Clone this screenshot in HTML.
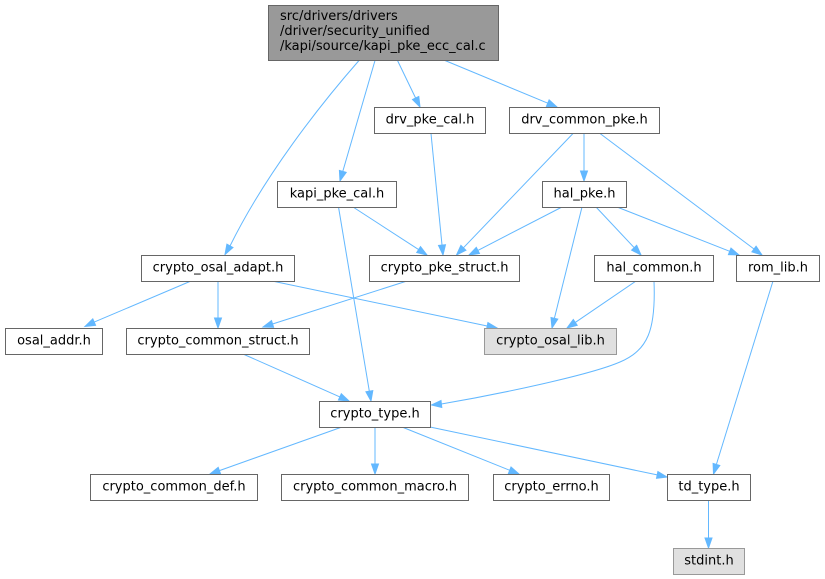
<!DOCTYPE html>
<html>
<head>
<meta charset="utf-8">
<style>
html,body{margin:0;padding:0;background:#fff;}
svg{display:block;}
text{font-family:"DejaVu Sans","Liberation Sans",sans-serif;font-size:13px;fill:#000;}
.e{fill:none;stroke:#63b8ff;stroke-width:1;}
.a{fill:#63b8ff;stroke:#63b8ff;stroke-width:1;}
.n{fill:#fff;stroke:#666;stroke-width:1;}
.g{fill:#e0e0e0;stroke:#999;stroke-width:1;}
.r{fill:#999;stroke:#666;stroke-width:1;}
</style>
</head>
<body>
<svg width="825" height="579" viewBox="0 0 825 579" xmlns="http://www.w3.org/2000/svg">
<!-- edges -->
<path class="e" d="M359,60.5 C320,105 265,175 230,246"/>
<polygon class="a" points="233,247.5 226.9,244.1 225,254.5"/>

<path class="e" d="M375,60.5 L342.8,171.4"/>
<polygon class="a" points="346.2,172.4 339.4,170.4 340,181"/>

<path class="e" d="M397.5,60.5 L415.6,98"/>
<polygon class="a" points="418.8,96.5 412.5,99.5 420,107"/>

<path class="e" d="M445,60.5 L547.8,103.2"/>
<polygon class="a" points="549.1,99.9 546.4,106.4 557,107"/>

<path class="e" d="M431,133.5 L442,245"/>
<polygon class="a" points="445.5,244.7 438.5,245.4 443,255"/>

<path class="e" d="M573,133.5 L463.4,247.8"/>
<polygon class="a" points="465.9,250.2 460.9,245.4 456.5,255"/>

<path class="e" d="M584,133.5 L584,171"/>
<polygon class="a" points="587.5,171 580.5,171 584,181"/>

<path class="e" d="M600,133.5 L754,249"/>
<polygon class="a" points="756.1,246.2 751.9,251.8 762,255"/>

<path class="e" d="M353,207 L418.6,249.6"/>
<polygon class="a" points="420.5,246.6 416.7,252.5 427,255"/>

<path class="e" d="M338.5,207 L369.3,391.1"/>
<polygon class="a" points="372.8,390.6 365.9,391.7 371,401"/>

<path class="e" d="M562,207 L477.9,250.4"/>
<polygon class="a" points="479.5,253.5 476.3,247.3 469,255"/>

<path class="e" d="M582,207 L554.4,318.3"/>
<polygon class="a" points="557.8,319.1 551,317.5 552,328"/>

<path class="e" d="M596,207 L634.2,247.7"/>
<polygon class="a" points="636.7,245.3 631.6,250.1 641,255"/>

<path class="e" d="M617,207 L729.7,251.3"/>
<polygon class="a" points="731,248.1 728.4,254.6 739,255"/>

<path class="e" d="M191,281 L94.2,322.1"/>
<polygon class="a" points="95.6,325.3 92.8,318.9 85,326.5"/>

<path class="e" d="M218,281 L218,318"/>
<polygon class="a" points="221.5,318 214.5,318 218,328"/>

<path class="e" d="M272,281 L487.2,326"/>
<polygon class="a" points="487.9,322.6 486.5,329.4 497,328"/>

<path class="e" d="M407,281 L272.5,324"/>
<polygon class="a" points="273.6,327.3 271.5,320.6 263,327"/>

<path class="e" d="M636,281 L575.3,322.4"/>
<polygon class="a" points="577.2,325.3 573.3,319.5 567,328"/>

<path class="e" d="M654,281 C656,330 648,350 620,362 C590,375 500,394 441.4,404"/>
<polygon class="a" points="441.8,407.5 441,400.5 431.5,405"/>

<path class="e" d="M773,281 L716.4,464.4"/>
<polygon class="a" points="719.8,465.5 713.1,463.4 713.5,474"/>

<path class="e" d="M243,354 L339.9,396.9"/>
<polygon class="a" points="341.3,393.7 338.4,400.1 349,401"/>

<path class="e" d="M342,427 L219.4,470.6"/>
<polygon class="a" points="220.6,473.9 218.2,467.3 210,474"/>

<path class="e" d="M375,427 L375,464"/>
<polygon class="a" points="378.5,464 371.5,464 375,474"/>

<path class="e" d="M402,427 L509.7,470.3"/>
<polygon class="a" points="511,467 508.4,473.5 519,474"/>

<path class="e" d="M430,427 L657.2,474.9"/>
<polygon class="a" points="657.9,471.5 656.5,478.3 667,477"/>

<path class="e" d="M708.5,500.5 L708.5,538"/>
<polygon class="a" points="712,538 705,538 708.5,548"/>

<!-- nodes -->
<rect class="r" x="268.5" y="5.5" width="230" height="55"/>
<text x="280" y="20">src/drivers/drivers</text>
<text x="280" y="35">/driver/security_unified</text>
<text x="280" y="50">/kapi/source/kapi_pke_ecc_cal.c</text>

<rect class="n" x="374.5" y="107.5" width="111" height="26"/>
<text x="430" y="123.5" text-anchor="middle">drv_pke_cal.h</text>

<rect class="n" x="509.5" y="107.5" width="150" height="26"/>
<text x="584.5" y="123.5" text-anchor="middle">drv_common_pke.h</text>

<rect class="n" x="277.5" y="181.5" width="119" height="26"/>
<text x="337" y="197.5" text-anchor="middle">kapi_pke_cal.h</text>

<rect class="n" x="542.5" y="181.5" width="84" height="26"/>
<text x="584.5" y="197.5" text-anchor="middle">hal_pke.h</text>

<rect class="n" x="141.5" y="255.5" width="153" height="26"/>
<text x="218" y="271.5" text-anchor="middle">crypto_osal_adapt.h</text>

<rect class="n" x="369.5" y="255.5" width="150" height="26"/>
<text x="444.5" y="271.5" text-anchor="middle">crypto_pke_struct.h</text>

<rect class="n" x="594.5" y="255.5" width="119" height="26"/>
<text x="654" y="271.5" text-anchor="middle">hal_common.h</text>

<rect class="n" x="736.5" y="255.5" width="83" height="26"/>
<text x="778" y="271.5" text-anchor="middle">rom_lib.h</text>

<rect class="n" x="5.5" y="328.5" width="97" height="26"/>
<text x="54" y="344.5" text-anchor="middle">osal_addr.h</text>

<rect class="n" x="126.5" y="328.5" width="183" height="26"/>
<text x="218" y="344.5" text-anchor="middle">crypto_common_struct.h</text>

<rect class="g" x="484.5" y="328.5" width="132" height="26"/>
<text x="550.5" y="344.5" text-anchor="middle">crypto_osal_lib.h</text>

<rect class="n" x="319.5" y="401.5" width="111" height="26"/>
<text x="375" y="417.5" text-anchor="middle">crypto_type.h</text>

<rect class="n" x="90.5" y="474.5" width="167" height="26"/>
<text x="174" y="490.5" text-anchor="middle">crypto_common_def.h</text>

<rect class="n" x="281.5" y="474.5" width="187" height="26"/>
<text x="375" y="490.5" text-anchor="middle">crypto_common_macro.h</text>

<rect class="n" x="493.5" y="474.5" width="116" height="26"/>
<text x="551.5" y="490.5" text-anchor="middle">crypto_errno.h</text>

<rect class="n" x="667.5" y="474.5" width="83" height="26"/>
<text x="709" y="490.5" text-anchor="middle">td_type.h</text>

<rect class="g" x="673.5" y="548.5" width="71" height="26"/>
<text x="709" y="564.5" text-anchor="middle">stdint.h</text>
</svg>
</body>
</html>
